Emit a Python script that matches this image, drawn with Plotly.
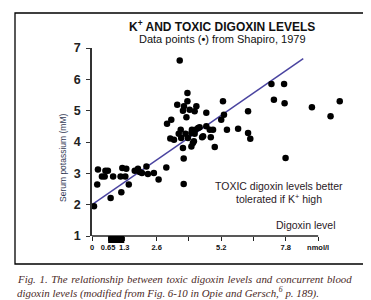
import plotly.graph_objects as go

# ---- data ----
digoxin = [0.08, 0.21, 0.24, 0.40, 0.51, 0.54, 0.64, 0.75, 0.85, 1.15, 1.18, 1.22, 1.34, 1.38, 1.48,
           1.72, 1.85, 1.92, 2.01, 2.19, 2.25, 2.49, 2.68, 2.99, 3.02, 3.19, 3.15, 3.30, 3.43, 3.53,
           3.49, 3.57, 3.59, 3.66, 3.70, 3.66, 3.69, 3.69, 3.76, 3.80, 3.84, 3.84, 3.86, 3.93, 4.00,
           4.02, 4.10, 4.13, 4.20, 4.27, 4.33, 4.47, 4.60, 4.60, 4.00, 4.13, 4.16,
           5.27, 5.31, 5.20, 6.28, 7.22, 7.73, 7.32, 7.75, 8.85, 9.97, 9.60, 7.79, 5.43, 5.88,
           6.28, 6.37, 4.94, 4.78, 4.87, 4.74, 4.43, 4.06]
potassium = [1.95, 2.64, 3.12, 2.90, 2.90, 3.08, 3.08, 2.21, 2.90, 2.90, 2.40, 3.17, 2.90, 3.15, 2.64,
             3.08, 3.15, 3.04, 3.01, 3.22, 2.98, 3.01, 2.80, 3.19, 4.58, 4.71, 4.11, 4.07, 5.19, 6.60,
             4.26, 4.39, 4.13, 5.00, 5.14, 3.81, 3.47, 2.66, 4.26, 4.79, 5.56, 5.30, 4.13, 5.03, 3.86,
             4.39, 4.02, 4.98, 5.14, 4.45, 4.47, 4.18, 4.93, 4.50, 4.29, 4.26, 4.39,
             5.30, 4.87, 4.71, 4.98, 5.85, 5.85, 5.35, 5.24, 5.11, 5.30, 4.82, 3.49, 4.39, 4.42,
             4.29, 4.10, 3.84, 4.15, 4.39, 4.39, 4.15, 3.97]

fit_x = [0.0, 8.5]
fit_y = [2.0, 6.66]

x_tickvals = [0, 0.65, 1.3, 2.6, 3.9, 5.2, 6.5, 7.8, 9.1]
x_ticktext = ["0", "0.65", "1.3", "2.6", "", "5.2", "", "7.8", "nmol/l"]
y_tickvals = [1, 2, 3, 4, 5, 6, 7]
therapeutic = [0.65, 1.3]
axis_end = 9.1

FONT = "Arial, Liberation Sans, sans-serif"
SERIF = "Liberation Serif, DejaVu Serif, serif"

fig = go.Figure()
fig.add_trace(go.Scatter(x=fit_x, y=fit_y, mode="lines",
                         line=dict(color="#4a44a0", width=1.5), hoverinfo="skip"))
fig.add_trace(go.Scatter(x=digoxin, y=potassium, mode="markers",
                         marker=dict(color="black", size=6.5, line=dict(width=0))))

L, R, T, B = 84, 24, 40, 72
W, H = 371, 300
pw = W - L - R
ph = H - T - B
xmax = pw / 24.85

def px(xp):
    return (xp - L) / pw

def py(yp):
    return (H - B - yp) / ph

fig.update_layout(
    width=W, height=H,
    margin=dict(l=L, r=R, t=T, b=B),
    paper_bgcolor="white", plot_bgcolor="white",
    showlegend=False,
    font=dict(family=FONT, color="#111"),
    xaxis=dict(range=[0, xmax], showgrid=False, zeroline=False, showline=False,
               tickmode="array", tickvals=x_tickvals, ticktext=x_ticktext,
               ticks="outside", ticklen=4, tickwidth=1.3, tickcolor="#222",
               tickfont=dict(size=7.5, family=FONT, color="#111", weight="bold"),
               ticklabelstandoff=0),
    yaxis=dict(range=[1, 7], showgrid=False, zeroline=False, showline=True,
               linecolor="#333", linewidth=1.5,
               tickmode="array", tickvals=y_tickvals,
               ticks="outside", ticklen=4, tickwidth=1.3, tickcolor="#333",
               tickfont=dict(size=12.5, color="#222", family=FONT, weight="bold"),
               ticklabelstandoff=3),
)

shapes = [
    # x axis line (ends at 9.1)
    dict(type="line", xref="x", yref="paper", x0=0, x1=axis_end, y0=0, y1=0,
         line=dict(color="#222", width=1.5), layer="above"),
    # therapeutic range bar
    dict(type="rect", xref="x", yref="paper", x0=therapeutic[0], x1=therapeutic[1],
         y0=-7 / ph, y1=0, fillcolor="black", line=dict(width=0), layer="above"),
    # frame
    dict(type="rect", xref="paper", yref="paper", x0=px(7), x1=px(363), y0=py(256), y1=py(5),
         line=dict(color="black", width=1.3), fillcolor="rgba(0,0,0,0)", layer="above"),
]
fig.update_layout(shapes=shapes)

cap1_words = "Fig. 1. The relationship between toxic digoxin levels and concurrent blood".split(" ")
cap1 = " \u200a".join(cap1_words)

ann = [
    dict(text="<b>K<sup>+</sup> AND TOXIC DIGOXIN LEVELS</b>", x=px(214), y=py(18),
         font=dict(size=12, color="#111")),
    dict(text="Data points (<b>•</b>) from Shapiro, 1979", x=px(214), y=py(31),
         font=dict(size=11, color="#111")),
    dict(text="Serum potassium (mM)", x=px(55), y=py(150), textangle=-90,
         font=dict(size=8.5, color="#333a55")),
    dict(text="TOXIC digoxin levels better", x=px(271), y=py(178),
         font=dict(size=10.5, color="#2a1a1f")),
    dict(text="tolerated if K<sup>+</sup> high", x=px(271), y=py(190),
         font=dict(size=10.5, color="#2a1a1f")),
    dict(text="Digoxin level", x=px(330), y=py(217), xanchor="right",
         font=dict(size=10.5, color="#2a1a1f")),
    dict(text="<i>" + cap1 + "</i>",
         x=px(7), y=py(271), xanchor="left",
         font=dict(size=10.9, color="#4b2a1f", family=SERIF)),
    dict(text="<i>digoxin levels (modified from Fig. 6-10 in Opie and Gersch,<sup>6</sup> p. 189).</i>",
         x=px(7), y=py(284), xanchor="left",
         font=dict(size=10.9, color="#4b2a1f", family=SERIF)),
]
for a in ann:
    a.setdefault("xanchor", "center")
    a.update(xref="paper", yref="paper", yanchor="middle", showarrow=False)
fig.update_layout(annotations=ann)

fig.write_html("out.html")
